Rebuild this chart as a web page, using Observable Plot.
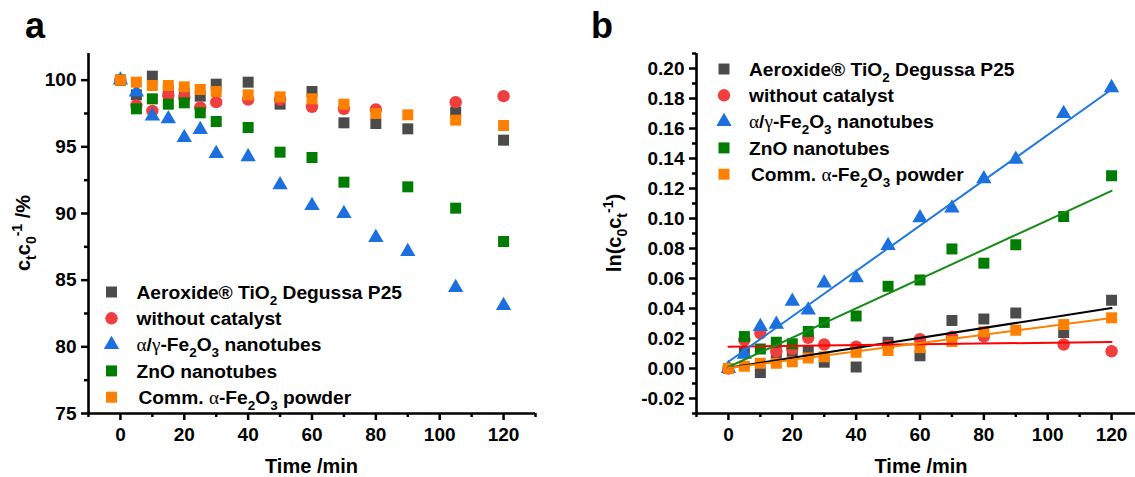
<!DOCTYPE html>
<html><head><meta charset="utf-8">
<script src="https://cdn.jsdelivr.net/npm/d3@7"></script>
<script src="https://cdn.jsdelivr.net/npm/@observablehq/plot@0.6"></script>
<style>
body{margin:0;background:#fff;}
#wrap{position:relative;width:1135px;height:477px;overflow:hidden;background:#fff;}
#wrap svg{position:absolute;top:0;max-width:none !important;}
</style></head><body><div id="wrap"></div>
<script>
// ---------- data ----------
const time = [0, 5, 10, 15, 20, 25, 30, 40, 50, 60, 70, 80, 90, 105, 120];
const seriesNames = ["Aeroxide® TiO2 Degussa P25", "without catalyst", "α/γ-Fe2O3 nanotubes", "ZnO nanotubes", "Comm. α-Fe2O3 powder"];

// panel a: c_t/c_0 (%)
const tio2A   = [100, 98.9, 100.3, 99.2, 99.0, 98.8, 99.7, 99.85, 98.2, 99.15, 96.8, 96.75, 96.35, 97.6, 95.5];
const noCatA  = [100, 98.1, 97.7, 98.85, 98.7, 97.95, 98.35, 98.55, 98.55, 98.0, 97.85, 97.8, null, 98.35, 98.8];
const fe2o3A  = [100, 99.1, 97.3, 97.1, 95.7, 96.3, 94.5, 94.25, 92.15, 90.6, 90.0, 88.2, 87.15, 84.45, 83.1];
const znoA    = [100, 97.85, 98.6, 98.2, 98.3, 97.55, 96.9, 96.45, 94.6, 94.2, 92.35, null, 92.0, 90.4, 87.9];
const commA   = [100, 99.85, 99.6, 99.6, 99.5, 99.3, 99.15, 98.9, 98.75, 98.6, 98.2, 97.5, 97.4, 97.0, 96.6];

// panel b: ln(c_0/c_t)
const tio2B   = [0, 0.011, -0.0027, 0.009, 0.010, 0.0115, 0.0042, 0.001, 0.0175, 0.0085, 0.032, 0.033, 0.037, 0.024, 0.0455];
const noCatB  = [0, 0.019, 0.0235, 0.0115, 0.013, 0.0205, 0.016, 0.0145, 0.015, 0.0195, 0.021, 0.0215, null, 0.016, 0.0115];
const fe2o3B  = [0, 0.0095, 0.028, 0.0295, 0.0448, 0.039, 0.057, 0.0605, 0.082, 0.1005, 0.107, 0.1265, 0.1395, 0.170, 0.1872];
const znoB    = [0, 0.0213, 0.013, 0.0175, 0.0165, 0.0247, 0.0307, 0.035, 0.0548, 0.059, 0.0797, 0.0702, 0.0825, 0.1013, 0.1285];
const commB   = [0, 0.0015, 0.0035, 0.0035, 0.0045, 0.007, 0.0078, 0.0108, 0.012, 0.0139, 0.018, 0.0245, 0.0255, 0.0293, 0.0338];

// linear fits (value at t = 0 and t = 120)
const fitTimes = [0, 120];
const fitStart = [0.0005, 0.0145, 0.0045, 0.001, 0.0003];
const fitEnd   = [0.0403, 0.0177, 0.186, 0.1184, 0.0337];

// ticks
const xMajor = [0, 20, 40, 60, 80, 100, 120];
const xMinor = [-10, 10, 30, 50, 70, 90, 110, 130];
const yMajorA = [75, 80, 85, 90, 95, 100];
const yMinorA = [77.5, 82.5, 87.5, 92.5, 97.5];
const yMajorB = [-0.02, 0, 0.02, 0.04, 0.06, 0.08, 0.10, 0.12, 0.14, 0.16, 0.18, 0.20];
const yMinorB = [-0.03, -0.01, 0.01, 0.03, 0.05, 0.07, 0.09, 0.11, 0.13, 0.15, 0.17, 0.19, 0.21];

// ---------- styles ----------
const FONT = "Arial, 'Liberation Sans', Helvetica, sans-serif";
const colors = ["#4b4b4b", "#f03e3e", "#1b6fde", "#007d00", "#ff8000"];
const lineColors = ["#000000", "#ff0000", "#1f78e0", "#188a18", "#ff8000"];
const symbols = ["square", "circle", "triangle", "square", "square"];
const d3symbols = [d3.symbolSquare, d3.symbolCircle, d3.symbolTriangle, d3.symbolSquare, d3.symbolSquare];
const radii = [6.2, 6.2, 5.7, 6.2, 6.2];

const legendSegs = [
  [["Aeroxide® TiO","n"],["2","sub"],[" Degussa P25","n"]],
  [["without catalyst","n"]],
  [["α","g"],["/","n"],["γ","g"],["-Fe","n"],["2","sub"],["O","n"],["3","sub"],[" nanotubes","n"]],
  [["ZnO nanotubes","n"]],
  [["Comm. ","n"],["α","g"],["-Fe","n"],["2","sub"],["O","n"],["3","sub"],[" powder","n"]]
];

function rows(values) {
  return time.map((t, i) => ({t, v: values[i]})).filter(d => d.v != null);
}

function richText(sel, segs, fs) {
  let shift = 0;
  for (const [txt, type] of segs) {
    const target = type === "sub" ? fs * 0.3 : type === "sup" ? -fs * 0.42 : 0;
    const ts = sel.append("tspan").text(txt).attr("dy", target - shift);
    shift = target;
    if (type === "sub" || type === "sup") ts.attr("font-size", fs * 0.7);
    if (type === "g") ts.attr("font-family", "'Liberation Serif', 'DejaVu Serif', serif").attr("font-weight", "normal");
  }
}

function panel({width, marginLeft, marginRight, ydomain, yMajor, yMinor, yFormat, series, fits}) {
  const marks = [
    Plot.axisY({ticks: yMajor, tickSize: 7, tickPadding: 5, strokeWidth: 2.5, tickFormat: yFormat, label: null}),
    Plot.axisY({ticks: yMinor, tickSize: 4, strokeWidth: 2.5, tickFormat: () => "", label: null}),
    Plot.axisX({ticks: xMajor, tickSize: 7, tickPadding: 7, strokeWidth: 2.5, tickFormat: d => String(d), label: null}),
    Plot.axisX({ticks: xMinor, tickSize: 4, strokeWidth: 2.5, tickFormat: () => "", label: null}),
    Plot.ruleX([-10], {strokeWidth: 2.6, stroke: "black"}),
    Plot.ruleY([ydomain[0]], {strokeWidth: 2.6, stroke: "black"})
  ];
  series.forEach((vals, i) => {
    marks.push(Plot.dot(rows(vals), {x: "t", y: "v", symbol: symbols[i], r: radii[i], fill: colors[i], stroke: "none"}));
  });
  if (fits) {
    fitStart.forEach((s, i) => {
      const d = [{t: fitTimes[0], v: s}, {t: fitTimes[1], v: fitEnd[i]}];
      marks.push(Plot.line(d, {x: "t", y: "v", stroke: lineColors[i], strokeWidth: 2}));
    });
  }
  return Plot.plot({
    width, height: 477, marginLeft, marginRight, marginTop: 53, marginBottom: 64,
    x: {domain: [-10, 130], label: null},
    y: {domain: ydomain, label: null},
    style: {fontFamily: FONT, fontWeight: "bold", fontSize: "19px", color: "black", background: "transparent", overflow: "visible"},
    marks
  });
}

function addLegend(svg, xm, xt, y0, step) {
  const g = d3.select(svg).append("g");
  const fs = 19.2;
  legendSegs.forEach((segs, i) => {
    const y = y0 + i * step;
    g.append("path").attr("transform", `translate(${xm},${y})`)
      .attr("d", d3.symbol(d3symbols[i], Math.PI * radii[i] * radii[i])()).attr("fill", colors[i]);
    const t = g.append("text").attr("x", xt + (i === 4 ? 2 : 0)).attr("y", y + 6.8)
      .attr("font-family", FONT).attr("font-weight", "bold").attr("font-size", fs).attr("fill", "black").attr("text-anchor", "start");
    richText(t, segs, fs);
  });
}

function addText(svg, x, y, segs, fs, rotate, anchor = "middle") {
  const t = d3.select(svg).append("text")
    .attr("transform", `translate(${x},${y})` + (rotate ? " rotate(-90)" : ""))
    .attr("font-family", FONT).attr("font-weight", "bold").attr("font-size", fs)
    .attr("fill", "black").attr("text-anchor", anchor);
  richText(t, segs, fs);
}

const wrap = document.getElementById("wrap");

// panel a
const svgA = panel({width: 560, marginLeft: 88, marginRight: 25, ydomain: [75, 102],
  yMajor: yMajorA, yMinor: yMinorA, yFormat: d => String(d),
  series: [tio2A, noCatA, fe2o3A, znoA, commA], fits: false});
svgA.style.left = "0px";
wrap.appendChild(svgA);
addLegend(svgA, 111.5, 136.5, 292, 26.3);
addText(svgA, 25, 38, [["a","n"]], 36, false, "start");
addText(svgA, 311.5, 473, [["Time /min","n"]], 20, false);
addText(svgA, 30, 233, [["c","n"],["t","sub"],["c","n"],["0","sub"],["-1","sup"],[" /%","n"]], 20, true);

// panel b
const svgB = panel({width: 580, marginLeft: 121, marginRight: 12, ydomain: [-0.03, 0.21],
  yMajor: yMajorB, yMinor: yMinorB, yFormat: d => d.toFixed(2),
  series: [tio2B, noCatB, fe2o3B, znoB, commB], fits: true});
svgB.style.left = "575px";
wrap.appendChild(svgB);
addLegend(svgB, 149, 174, 69, 26.3);
addText(svgB, 16, 38, [["b","n"]], 36, false, "start");
addText(svgB, 346, 473, [["Time /min","n"]], 20, false);
addText(svgB, 46, 233, [["ln(c","n"],["0","sub"],["c","n"],["t","sub"],["-1","sup"],[")","n"]], 20, true);
</script>
</body></html>
